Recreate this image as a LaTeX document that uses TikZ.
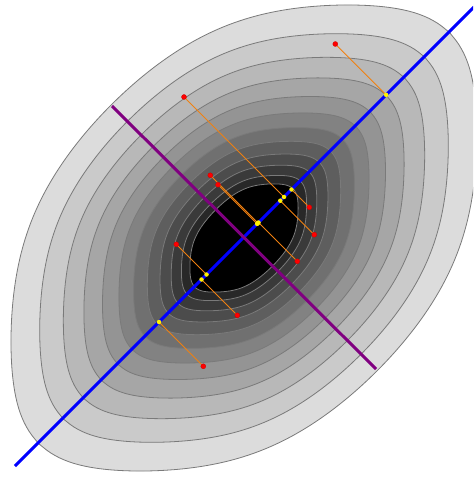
\documentclass[tikz,border=0pt]{standalone}
\usetikzlibrary{calc}
\definecolor{pcaorange}{RGB}{240,128,16}
\definecolor{pcapurple}{RGB}{128,0,128}
\definecolor{pcablue}{RGB}{0,0,255}
\tikzset{
  declare function={
    rr(\t,\qa,\qb,\qh)=\qa/pow(pow(cos(\t-45)*cos(\t-45)+(\qa/\qb)*(\qa/\qb)*sin(\t-45)*sin(\t-45),5)+pow(\qa/\qh,10)*pow(pow(abs(cos(\t)),8)+pow(abs(sin(\t)),8),1.25),0.1);
  },
  contourline/.style={draw=black!52, line width=0.8pt},
  reddot/.style={circle, fill=red, draw=red!80!black, line width=0.3pt, inner sep=0pt, minimum size=5pt},
  yellowdot/.style={circle, fill=yellow, inner sep=0pt, minimum size=4.5pt},
  projline/.style={draw=pcaorange, line width=0.9pt},
  axisline/.style={line width=3pt},
}
\begin{document}
\begin{tikzpicture}[x=1pt,y=-1pt]
\useasboundingbox (0,0) rectangle (473,478);
\clip (0,0) rectangle (473,478);
\fill[white] (0,0) rectangle (473,478);
% contours
\foreach \ea/\eb/\eh/\eg in {305.1/188.1/246.6/220, 269.9/165/215.2/202, 240.7/145.7/189.6/184, 214.9/129/167.5/166, 191.3/114.1/147.6/148, 170.2/100.9/130.1/130, 151.2/88.8/114.6/112, 133.5/77.3/100.2/94, 116.9/66.5/86.9/76, 102.5/56.8/75.2/58, 89.2/47.6/64.6/40, 78/40/55.8/0}{
  \definecolor{cfill}{RGB}{\eg,\eg,\eg}
  \filldraw[fill=cfill, contourline] plot[domain=0:359, samples=360] ({244+rr(\x,\ea,\eb,\eh)*cos(\x)},{238-rr(\x,\ea,\eb,\eh)*sin(\x)}) -- cycle;
}
% axes
\coordinate (B1) at (15,466);
\coordinate (B2) at (474,7);
\coordinate (P1) at (112,106);
\coordinate (P2) at (376,369);
\draw[axisline, pcablue] (B1) -- (B2);
\draw[axisline, pcapurple] (P1) -- (P2);
% data points
\foreach \n/\px/\py in {1/335.3/44, 2/184/97, 3/210.3/175.3, 4/218/184.7, 5/309.3/207.3, 6/314.3/234.7, 7/297.3/261.3, 8/176.3/244.3, 9/237.3/315.3, 10/203.3/366.3}{
  \coordinate (R\n) at (\px,\py);
  \coordinate (Y\n) at ($(B1)!(R\n)!(B2)$);
  \draw[projline] (R\n) -- (Y\n);
}
\foreach \n in {1,...,10}{
  \node[reddot] (r\n) at (R\n) {};
  \node[yellowdot] (y\n) at (Y\n) {};
}
\end{tikzpicture}
\end{document}
